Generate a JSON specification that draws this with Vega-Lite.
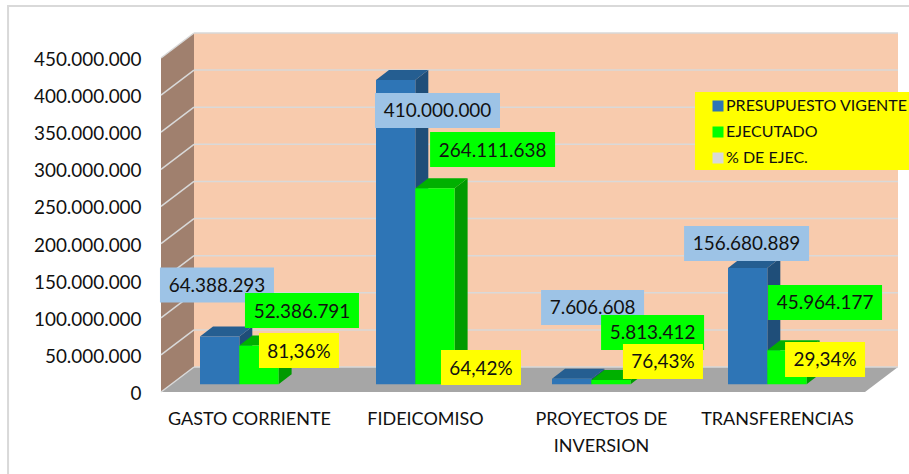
{
"$schema":"https://vega.github.io/schema/vega-lite/v6.json",
"width":737,"height":359,
"autosize":"none",
"padding":{"left":161,"top":33,"right":11,"bottom":82},
"background":"#FFFFFF",
"config":{"view":{"stroke":null},"text":{"font":"Lato"},"axis":{"labelFont":"Lato","labelColor":"#111111","ticks":false,"domain":false,"grid":false,"title":null}},
"encoding":{
"x":{"field":"x","type":"quantitative","scale":{"domain":[0,4.1875],"nice":false,"zero":false},"axis":{"values":[0.5,1.5,2.5,3.5],"labelFontSize":18,"labelPadding":18,"labelLineHeight":27,"labelOverlap":false,"labelFlush":false,"labelBound":false,"labelExpr":"datum.value<1?'GASTO CORRIENTE':datum.value<2?'FIDEICOMISO':datum.value<3?['PROYECTOS DE','INVERSION']:'TRANSFERENCIAS'"}},
"y":{"field":"y","type":"quantitative","stack":null,"scale":{"domain":[0,483680000],"nice":false,"zero":false},"axis":{"values":[0,50000000,100000000,150000000,200000000,250000000,300000000,350000000,400000000,450000000],"labelFontSize":18.9,"labelPadding":20,"labelOffset":1.5,"labelOverlap":false,"labelBound":false,"labelExpr":"replace(format(datum.value,','),/,/g,'.')"}}
},
"layer":[
{"data":{"values":[{"part":"outer frame"}]},"transform":[{"calculate":"-0.869","as":"x"},{"calculate":"5","as":"x2"},{"calculate":"-120000000","as":"y"},{"calculate":"520000000","as":"y2"}],"mark":{"type":"rect","fill":null,"stroke":"#D9D9D9","strokeWidth":2,"clip":false},"encoding":{"x2":{"field":"x2"},"y2":{"field":"y2"}}},
{"data":{"values":[{"part":"back wall"}]},"transform":[{"calculate":"0.1875","as":"x"},{"calculate":"4.1875","as":"x2"},{"calculate":"33680000","as":"y"},{"calculate":"483680000","as":"y2"}],"mark":{"type":"rect","fill":"#F8CBAD"},"encoding":{"x2":{"field":"x2"},"y2":{"field":"y2"}}},
{"data":{"values":[{"depth":0},{"depth":1}]},"transform":[{"calculate":"datum.depth*0.1875","as":"x"},{"calculate":"datum.depth*33680000","as":"y"},{"calculate":"datum.y+450000000","as":"y2"}],"mark":{"type":"area","fill":"#A0806E"},"encoding":{"y2":{"field":"y2"}}},
{"data":{"values":[{"pt":0},{"pt":1},{"pt":2},{"pt":3}]},"transform":[{"calculate":"[0,0.1875,4,4.1875][datum.pt]","as":"x"},{"calculate":"[0,0,0,33680000][datum.pt]","as":"y"},{"calculate":"[0,33680000,33680000,33680000][datum.pt]","as":"y2"}],"mark":{"type":"area","fill":"#A6A6A6"},"encoding":{"y2":{"field":"y2"}}},
{"data":{"values":[{"tick":0},{"tick":50000000},{"tick":100000000},{"tick":150000000},{"tick":200000000},{"tick":250000000},{"tick":300000000},{"tick":350000000},{"tick":400000000},{"tick":450000000}]},"transform":[{"calculate":"0","as":"x"},{"calculate":"0.1875","as":"x2"},{"calculate":"datum.tick","as":"y"},{"calculate":"datum.tick+33680000","as":"y2"}],"mark":{"type":"rule","color":"#D9D9D9","strokeWidth":1.5},"encoding":{"x2":{"field":"x2"},"y2":{"field":"y2"}}},
{"data":{"values":[{"tick":0},{"tick":50000000},{"tick":100000000},{"tick":150000000},{"tick":200000000},{"tick":250000000},{"tick":300000000},{"tick":350000000},{"tick":400000000},{"tick":450000000}]},"transform":[{"calculate":"0.1875","as":"x"},{"calculate":"4.1875","as":"x2"},{"calculate":"datum.tick+33680000","as":"y"}],"mark":{"type":"rule","color":"#D9D9D9","strokeWidth":1.5},"encoding":{"x2":{"field":"x2"}}},
{"data":{"values":[{"part":"legend box"}]},"transform":[{"calculate":"3.034","as":"x"},{"calculate":"4.25","as":"x2"},{"calculate":"299100000","as":"y"},{"calculate":"404200000","as":"y2"}],"mark":{"type":"rect","fill":"#FFFF00","clip":false},"encoding":{"x2":{"field":"x2"},"y2":{"field":"y2"}}},
{
"data":{"values":[
{"category":"GASTO CORRIENTE","series":"PRESUPUESTO VIGENTE","value":64388293},
{"category":"GASTO CORRIENTE","series":"EJECUTADO","value":52386791},
{"category":"GASTO CORRIENTE","series":"% DE EJEC.","value":81.36},
{"category":"FIDEICOMISO","series":"PRESUPUESTO VIGENTE","value":410000000},
{"category":"FIDEICOMISO","series":"EJECUTADO","value":264111638},
{"category":"FIDEICOMISO","series":"% DE EJEC.","value":64.42},
{"category":"PROYECTOS DE INVERSION","series":"PRESUPUESTO VIGENTE","value":7606608},
{"category":"PROYECTOS DE INVERSION","series":"EJECUTADO","value":5813412},
{"category":"PROYECTOS DE INVERSION","series":"% DE EJEC.","value":76.43},
{"category":"TRANSFERENCIAS","series":"PRESUPUESTO VIGENTE","value":156680889},
{"category":"TRANSFERENCIAS","series":"EJECUTADO","value":45964177},
{"category":"TRANSFERENCIAS","series":"% DE EJEC.","value":29.34}
]},
"transform":[
{"calculate":"indexof(['GASTO CORRIENTE','FIDEICOMISO','PROYECTOS DE INVERSION','TRANSFERENCIAS'],datum.category)","as":"i"},
{"calculate":"indexof(['PRESUPUESTO VIGENTE','EJECUTADO','% DE EJEC.'],datum.series)","as":"s"},
{"calculate":"datum.i+0.2216+datum.s*0.2233","as":"xl"},
{"calculate":"datum.xl+0.2233","as":"xr"},
{"calculate":"10370000","as":"base"},
{"calculate":"datum.base+datum.value","as":"top"},
{"calculate":"[[0.318,0.801,0.784],[1.571,1.884,1.818],[2.452,2.793,2.852],[3.327,3.773,3.773]][datum.i][datum.s]","as":"lx"},
{"calculate":"[[144170000,109800000,55900000],[379300000,326700000,33000000],[113900000,80200000,41100000],[200100000,120600000,43800000]][datum.i][datum.s]","as":"ly"},
{"calculate":"datum.s==2?replace(format(datum.value,'.2f'),'.',',')+'%':replace(format(datum.value,','),/,/g,'.')","as":"label"},
{"calculate":"(datum.s==2?80:11*length(datum.label)+4)/352","as":"hw"}
],
"layer":[
{"transform":[{"filter":"datum.s==0"},{"calculate":"[0,1]","as":"pt"},{"flatten":["pt"]},{"calculate":"datum.xr+datum.pt*0.0739","as":"x"},{"calculate":"datum.base+datum.pt*13470000","as":"y"},{"calculate":"datum.top+datum.pt*13470000","as":"y2"}],"mark":{"type":"area","fill":"#1F4E79"},"encoding":{"y2":{"field":"y2"},"detail":{"field":"category"}}},
{"transform":[{"filter":"datum.s==0"},{"calculate":"[0,1,2,3]","as":"pt"},{"flatten":["pt"]},{"calculate":"[datum.xl,datum.xl+0.0739,datum.xr,datum.xr+0.0739][datum.pt]","as":"x"},{"calculate":"datum.top+[0,0,0,13470000][datum.pt]","as":"y"},{"calculate":"datum.top+[0,13470000,13470000,13470000][datum.pt]","as":"y2"}],"mark":{"type":"area","fill":"#255E91"},"encoding":{"y2":{"field":"y2"},"detail":{"field":"category"}}},
{"transform":[{"filter":"datum.s==0"},{"calculate":"datum.xl","as":"x"},{"calculate":"datum.base","as":"y"}],"mark":{"type":"rect"},"encoding":{"x2":{"field":"xr"},"y2":{"field":"top"},"color":{"field":"series","type":"nominal","scale":{"domain":["PRESUPUESTO VIGENTE","EJECUTADO","% DE EJEC."],"range":["#2E75B6","#00FF00","#D9D9D9"]},"legend":{"title":null,"orient":"none","legendX":549,"legendY":65,"padding":0,"symbolType":"square","symbolSize":121,"symbolStrokeWidth":0,"labelFont":"Lato","labelFontSize":16,"labelColor":"#111111","labelOffset":0,"labelLimit":300,"rowPadding":10,"values":["PRESUPUESTO VIGENTE","EJECUTADO","% DE EJEC."]}}}},
{"transform":[{"filter":"datum.s==1"},{"calculate":"[0,1]","as":"pt"},{"flatten":["pt"]},{"calculate":"datum.xr+datum.pt*0.0739","as":"x"},{"calculate":"datum.base+datum.pt*13470000","as":"y"},{"calculate":"datum.top+datum.pt*13470000","as":"y2"}],"mark":{"type":"area","fill":"#009A00"},"encoding":{"y2":{"field":"y2"},"detail":{"field":"category"}}},
{"transform":[{"filter":"datum.s==1"},{"calculate":"[0,1,2,3]","as":"pt"},{"flatten":["pt"]},{"calculate":"[datum.xl,datum.xl+0.0739,datum.xr,datum.xr+0.0739][datum.pt]","as":"x"},{"calculate":"datum.top+[0,0,0,13470000][datum.pt]","as":"y"},{"calculate":"datum.top+[0,13470000,13470000,13470000][datum.pt]","as":"y2"}],"mark":{"type":"area","fill":"#00B000"},"encoding":{"y2":{"field":"y2"},"detail":{"field":"category"}}},
{"transform":[{"filter":"datum.s==1"},{"calculate":"datum.xl","as":"x"},{"calculate":"datum.base","as":"y"}],"mark":{"type":"rect"},"encoding":{"x2":{"field":"xr"},"y2":{"field":"top"},"color":{"field":"series","type":"nominal","scale":{"domain":["PRESUPUESTO VIGENTE","EJECUTADO","% DE EJEC."],"range":["#2E75B6","#00FF00","#D9D9D9"]}}}},
{"transform":[{"filter":"datum.s==0"},{"calculate":"datum.lx-datum.hw","as":"x"},{"calculate":"datum.lx+datum.hw","as":"x2"},{"calculate":"datum.ly-23580000","as":"y"},{"calculate":"datum.ly+23580000","as":"y2"}],"mark":{"type":"rect","fill":"#9DC3E6"},"encoding":{"x2":{"field":"x2"},"y2":{"field":"y2"}}},
{"transform":[{"filter":"datum.s==0"},{"calculate":"datum.lx","as":"x"},{"calculate":"datum.ly","as":"y"}],"mark":{"type":"text","fontSize":18.9,"color":"#111111","font":"Lato","dy":1},"encoding":{"text":{"field":"label"}}},
{"transform":[{"filter":"datum.s==1"},{"calculate":"datum.lx-datum.hw","as":"x"},{"calculate":"datum.lx+datum.hw","as":"x2"},{"calculate":"datum.ly-23580000","as":"y"},{"calculate":"datum.ly+23580000","as":"y2"}],"mark":{"type":"rect","fill":"#00FF00"},"encoding":{"x2":{"field":"x2"},"y2":{"field":"y2"}}},
{"transform":[{"filter":"datum.s==1"},{"calculate":"datum.lx","as":"x"},{"calculate":"datum.ly","as":"y"}],"mark":{"type":"text","fontSize":18.9,"color":"#111111","font":"Lato","dy":1},"encoding":{"text":{"field":"label"}}},
{"transform":[{"filter":"datum.s==2"},{"calculate":"datum.lx-datum.hw","as":"x"},{"calculate":"datum.lx+datum.hw","as":"x2"},{"calculate":"datum.ly-23580000","as":"y"},{"calculate":"datum.ly+23580000","as":"y2"}],"mark":{"type":"rect","fill":"#FFFF00"},"encoding":{"x2":{"field":"x2"},"y2":{"field":"y2"}}},
{"transform":[{"filter":"datum.s==2"},{"calculate":"datum.lx","as":"x"},{"calculate":"datum.ly","as":"y"}],"mark":{"type":"text","fontSize":18.9,"color":"#111111","font":"Lato","dy":1},"encoding":{"text":{"field":"label"}}}
]
}
]
}
